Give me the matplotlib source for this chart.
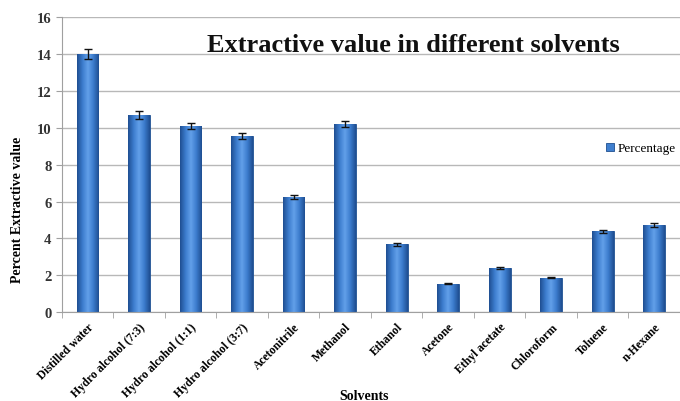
import numpy as np
import matplotlib
matplotlib.use("Agg")
import matplotlib.pyplot as plt
from matplotlib.colors import LinearSegmentedColormap

solvents = ["Distilled water", "Hydro alcohol (7:3)", "Hydro alcohol (1:1)",
            "Hydro alcohol (3:7)", "Acetonitrile", "Methanol", "Ethanol",
            "Acetone", "Ethyl acetate", "Chloroform", "Toluene", "n-Hexane"]
percentage = [14.0, 10.7, 10.1, 9.55, 6.25, 10.2, 3.67, 1.54, 2.38, 1.87, 4.38, 4.73]
errors = [0.25, 0.2, 0.18, 0.17, 0.12, 0.15, 0.07, 0.04, 0.05, 0.04, 0.07, 0.09]

plt.rcParams['font.family'] = ['Liberation Serif', 'DejaVu Serif']

fig = plt.figure(figsize=(6.8, 4.02), dpi=100)
ax = fig.add_axes([0.091, 0.221, 0.909, 0.734])

x = np.arange(len(solvents))
bars = ax.bar(x, percentage, width=0.42, color='#3f7fcf', edgecolor='#1f4f8f',
              linewidth=0.6, zorder=2, label='Percentage')

# cylinder-like shading across each bar
shade = LinearSegmentedColormap.from_list(
    'shade', ['#1f4f92', '#3c7ccd', '#62a0ea', '#3c7ccd', '#1f4f92'])
grad = np.linspace(0, 1, 64).reshape(1, -1)
for b in bars:
    x0, y0 = b.get_x(), b.get_y()
    im = ax.imshow(grad, cmap=shade, aspect='auto', zorder=2.5,
                   extent=(x0, x0 + b.get_width(), y0, y0 + b.get_height()))
    im.set_clip_path(b)

ax.errorbar(x, percentage, yerr=errors, fmt='none', ecolor='#111111',
            elinewidth=1.0, capsize=3, capthick=1.0, zorder=3)

ax.set_xlim(-0.5, len(solvents) - 0.5)
ax.set_ylim(0, 16)
ax.set_yticks(range(0, 17, 2))
ax.yaxis.grid(True, color='#b8b8b8', linewidth=1.0, zorder=0)
ax.set_axisbelow(True)

ax.set_xticks(x)
ax.set_xticklabels(solvents, rotation=45, ha='right', rotation_mode='anchor',
                   fontsize=8.5, fontweight='bold')
ax.tick_params(axis='x', length=0, pad=6)
ax.set_xticks(np.arange(-0.5, len(solvents)), minor=True)
ax.tick_params(axis='x', which='minor', length=4, color='#a0a0a0')
ax.tick_params(axis='y', labelsize=10.5, length=4, color='#a0a0a0', labelcolor='#333333')
for lab in ax.get_yticklabels():
    lab.set_fontweight('bold')

for s in ['top', 'right']:
    ax.spines[s].set_visible(False)
ax.spines['left'].set_color('#a0a0a0')
ax.spines['bottom'].set_color('#a0a0a0')

ax.set_ylabel('Percent Extractive value', fontsize=10, fontweight='bold')
ax.yaxis.set_label_coords(-0.062, 0.35)
ax.set_xlabel('Solvents', fontsize=10, fontweight='bold')
ax.xaxis.set_label_coords(0.489, -0.262)

ax.text(0.568, 0.908, 'Extractive value in different solvents', transform=ax.transAxes,
        ha='center', va='center', fontsize=19, fontweight='bold', color='#111111')

leg = ax.legend(loc='center left', bbox_to_anchor=(0.872, 0.555), frameon=False,
                fontsize=9.5, handlelength=0.6, handleheight=0.6, handletextpad=0.3,
                borderaxespad=0)

fig.savefig('out.png', dpi=100)
